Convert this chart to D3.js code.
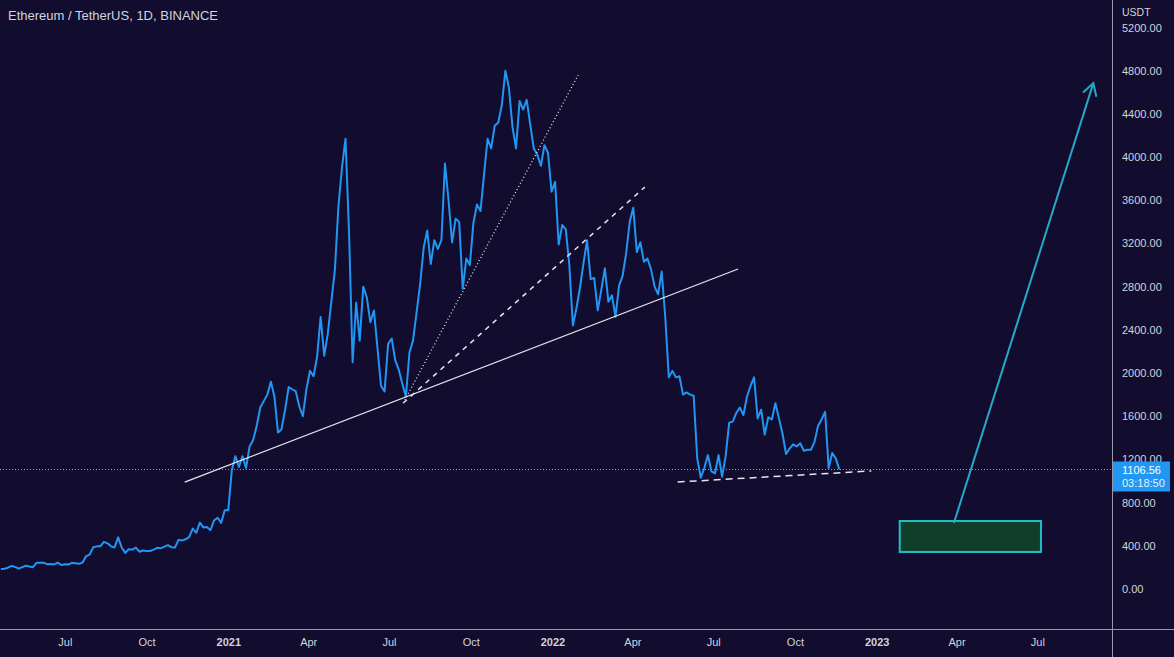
<!DOCTYPE html>
<html><head><meta charset="utf-8">
<script src="https://cdn.jsdelivr.net/npm/d3@7"></script>
<style>
html,body{margin:0;padding:0;background:#120c2e;}
svg{display:block;}
text{font-family:"Liberation Sans", Arial, sans-serif;}
</style></head><body>
<svg id="chart" width="1174" height="657"></svg>
<script>
// ---------- data ----------
const chartTitle = "Ethereum / TetherUS, 1D, BINANCE";
const currency = "USDT";
const seriesStart = "2020-04-20";
const stepDays = 4;
const closes = [
  185, 187, 197, 214, 204, 188, 203, 215, 208, 201, 243, 244, 244, 230, 231, 228, 244, 222,
  230, 227, 242, 239, 233, 245, 305, 318, 387, 395, 395, 437, 423, 395, 385, 478,
  385, 335, 368, 365, 383, 345, 356, 353, 352, 365, 381, 377, 392, 406, 387,
  384, 455, 450, 460, 480, 560, 520, 615, 570, 575, 545, 635, 660, 612, 730,
  730, 1100, 1230, 1130, 1230, 1120, 1320, 1380, 1510, 1680, 1740, 1800, 1920, 1780, 1450,
  1480, 1660, 1870, 1850, 1830, 1690, 1600, 1850, 2020, 1970, 2150, 2520, 2160, 2360, 2660,
  2950, 3540, 3900, 4170, 3300, 2100, 2650, 2300, 2800, 2700, 2470, 2580, 2230, 1880, 1830, 2270,
  2320, 2120, 2030, 1900, 1780, 2190, 2300, 2560, 2820, 3160, 3320, 3010, 3230, 3150, 3230,
  3940, 3600, 3210, 3430, 3400, 2780, 3060, 3000, 3390, 3560, 3500, 3840, 4170, 4080, 4290,
  4320, 4480, 4800, 4640, 4280, 4080, 4520, 4440, 4530, 4300, 4080, 4020, 3920, 4110, 4040, 3680,
  3770, 3190, 3370, 3330, 3000, 2440, 2600, 2790, 3020, 3230, 2870, 2880, 2580, 2770,
  2970, 2660, 2720, 2520, 2810, 2900, 3110, 3400, 3530, 3120, 3210, 3030, 3060, 2960, 2800, 2730,
  2940, 2520, 1960, 2020, 1960, 1970, 1800, 1820, 1800, 1790, 1210, 1030, 1120, 1240, 1090,
  1070, 1240, 1040, 1230, 1540, 1550, 1630, 1680, 1610, 1780, 1880, 1960, 1580, 1660, 1430,
  1590, 1570, 1720, 1580, 1440, 1250, 1300, 1340, 1320, 1350, 1280, 1290, 1290, 1360, 1510, 1570,
  1640, 1120, 1260, 1210, 1106.56
];
const lastPrice = 1106.56;
const countdown = "03:18:50";
const yTicks = [0, 400, 800, 1200, 1600, 2000, 2400, 2800, 3200, 3600, 4000, 4400, 4800, 5200];
const xTickDates = ["2020-07-01","2020-10-01","2021-01-01","2021-04-01","2021-07-01","2021-10-01",
  "2022-01-01","2022-04-01","2022-07-01","2022-10-01","2023-01-01","2023-04-01","2023-07-01"];
const xTickLabels = ["Jul","Oct","2021","Apr","Jul","Oct","2022","Apr","Jul","Oct","2023","Apr","Jul"];
const xDomain = ["2020-04-19", "2023-09-23"];
const yDomain = [0, 5200];

// drawings (date, price)
const trendSolidDates = ["2020-11-13", "2022-07-29"], trendSolidPrices = [990, 2963];
const trendDottedDates = ["2021-07-17", "2022-01-30"], trendDottedPrices = [1722, 4760];
const trendDashedDates = ["2021-07-17", "2022-04-15"], trendDashedPrices = [1722, 3722];
const supportDates = ["2022-05-22", "2022-12-26"], supportPrices = [991, 1093];
const zoneDates = ["2023-01-27", "2023-07-05"], zonePrices = [343, 630];
const arrowDates = ["2023-03-29", "2023-09-02"], arrowPrices = [611, 4685];

// ---------- layout ----------
const W = 1174, H = 657;
const plotRight = 1112, plotBottom = 629;
const parse = d3.utcParse("%Y-%m-%d");
const svg = d3.select("#chart");
svg.append("rect").attr("width", W).attr("height", H).attr("fill", "#120c2e");

const x = d3.scaleUtc().domain(xDomain.map(parse)).range([0, plotRight]);
const y = d3.scaleLinear().domain(yDomain).range([589, 27.5]);

const start = parse(seriesStart);
const series = closes.map((v, i) => ({ date: d3.utcDay.offset(start, i * stepDays), value: v }));

const plot = svg.append("g");
plot.append("clipPath").attr("id", "clip").append("rect")
  .attr("x", 0).attr("y", 0).attr("width", plotRight).attr("height", plotBottom);
const g = plot.append("g").attr("clip-path", "url(#clip)");

// current price dotted line
g.append("line")
  .attr("x1", 0).attr("x2", plotRight)
  .attr("y1", y(lastPrice)).attr("y2", y(lastPrice))
  .attr("stroke", "#7f95d8").attr("stroke-width", 1).attr("stroke-dasharray", "1 2");

// price line
g.append("path").datum(series)
  .attr("fill", "none").attr("stroke", "#2196f3").attr("stroke-width", 2)
  .attr("stroke-linejoin", "round")
  .attr("d", d3.line().x(d => x(d.date)).y(d => y(d.value)));

function seg(dates, prices, dash, width, color) {
  g.append("line")
    .attr("x1", x(parse(dates[0]))).attr("y1", y(prices[0]))
    .attr("x2", x(parse(dates[1]))).attr("y2", y(prices[1]))
    .attr("stroke", color || "#e6e6ee").attr("stroke-width", width)
    .attr("stroke-dasharray", dash);
}
seg(trendSolidDates, trendSolidPrices, null, 1.2);
seg(trendDottedDates, trendDottedPrices, "1 2.5", 1.3);
seg(trendDashedDates, trendDashedPrices, "5 5", 1.5);
seg(supportDates, supportPrices, "7 5", 1.5);

// target zone
g.append("rect")
  .attr("x", x(parse(zoneDates[0]))).attr("y", y(zonePrices[1]))
  .attr("width", x(parse(zoneDates[1])) - x(parse(zoneDates[0])))
  .attr("height", y(zonePrices[0]) - y(zonePrices[1]))
  .attr("fill", "#113d2b").attr("stroke", "#1fbfc9").attr("stroke-width", 2);

// arrow
const ax1 = x(parse(arrowDates[0])), ay1 = y(arrowPrices[0]);
const ax2 = x(parse(arrowDates[1])), ay2 = y(arrowPrices[1]);
g.append("line").attr("x1", ax1).attr("y1", ay1).attr("x2", ax2).attr("y2", ay2)
  .attr("stroke", "#26a9c9").attr("stroke-width", 2);
const ang = Math.atan2(ay1 - ay2, ax1 - ax2), headLen = 14, spread = Math.PI / 6;
const headPts = [ang - spread, ang + spread].map(a => [ax2 + headLen * Math.cos(a), ay2 + headLen * Math.sin(a)]);
g.append("path")
  .attr("d", `M${headPts[0][0]},${headPts[0][1]}L${ax2},${ay2}L${headPts[1][0]},${headPts[1][1]}`)
  .attr("fill", "none").attr("stroke", "#26a9c9").attr("stroke-width", 2)
  .attr("stroke-linejoin", "miter");

// separators
svg.append("line").attr("x1", plotRight + 0.5).attr("x2", plotRight + 0.5).attr("y1", 0).attr("y2", H)
  .attr("stroke", "#9a98ad").attr("stroke-width", 1);
svg.append("line").attr("x1", 0).attr("x2", W).attr("y1", plotBottom + 0.5).attr("y2", plotBottom + 0.5)
  .attr("stroke", "#9a98ad").attr("stroke-width", 1);

// y axis
const yAxis = svg.append("g").attr("transform", `translate(${plotRight},0)`)
  .call(d3.axisRight(y).tickValues(yTicks).tickFormat(d3.format(".2f")).tickSize(0).tickPadding(10));
yAxis.select(".domain").remove();
yAxis.selectAll("text").attr("fill", "#d1d4dc").attr("font-size", 11)
  .attr("font-family", '"Liberation Sans", Arial, sans-serif');

svg.append("text").attr("x", 1122).attr("y", 16).text(currency)
  .attr("fill", "#d1d4dc").attr("font-size", 10.5);

// last price label
const ly = y(lastPrice);
svg.append("rect").attr("x", plotRight + 1).attr("y", ly - 8).attr("width", 57).attr("height", 30)
  .attr("fill", "#2196f3");
svg.append("text").attr("x", 1122).attr("y", ly + 4).text(d3.format(".2f")(lastPrice))
  .attr("fill", "#ffffff").attr("font-size", 11);
svg.append("text").attr("x", 1122).attr("y", ly + 17).text(countdown)
  .attr("fill", "#e8f2ff").attr("font-size", 11);

// x axis
const xAxis = svg.append("g").attr("transform", `translate(0,${plotBottom})`)
  .call(d3.axisBottom(x).tickValues(xTickDates.map(parse))
    .tickFormat((d, i) => xTickLabels[i]).tickSize(0).tickPadding(9));
xAxis.select(".domain").remove();
xAxis.selectAll("text").attr("fill", "#d1d4dc").attr("font-size", 11)
  .attr("font-family", '"Liberation Sans", Arial, sans-serif')
  .attr("font-weight", (d, i) => /^\d{4}$/.test(xTickLabels[i]) ? "bold" : "normal");

// title
svg.append("text").attr("x", 8).attr("y", 20).text(chartTitle)
  .attr("fill", "#d1d4dc").attr("font-size", 13);
</script>
</body></html>
